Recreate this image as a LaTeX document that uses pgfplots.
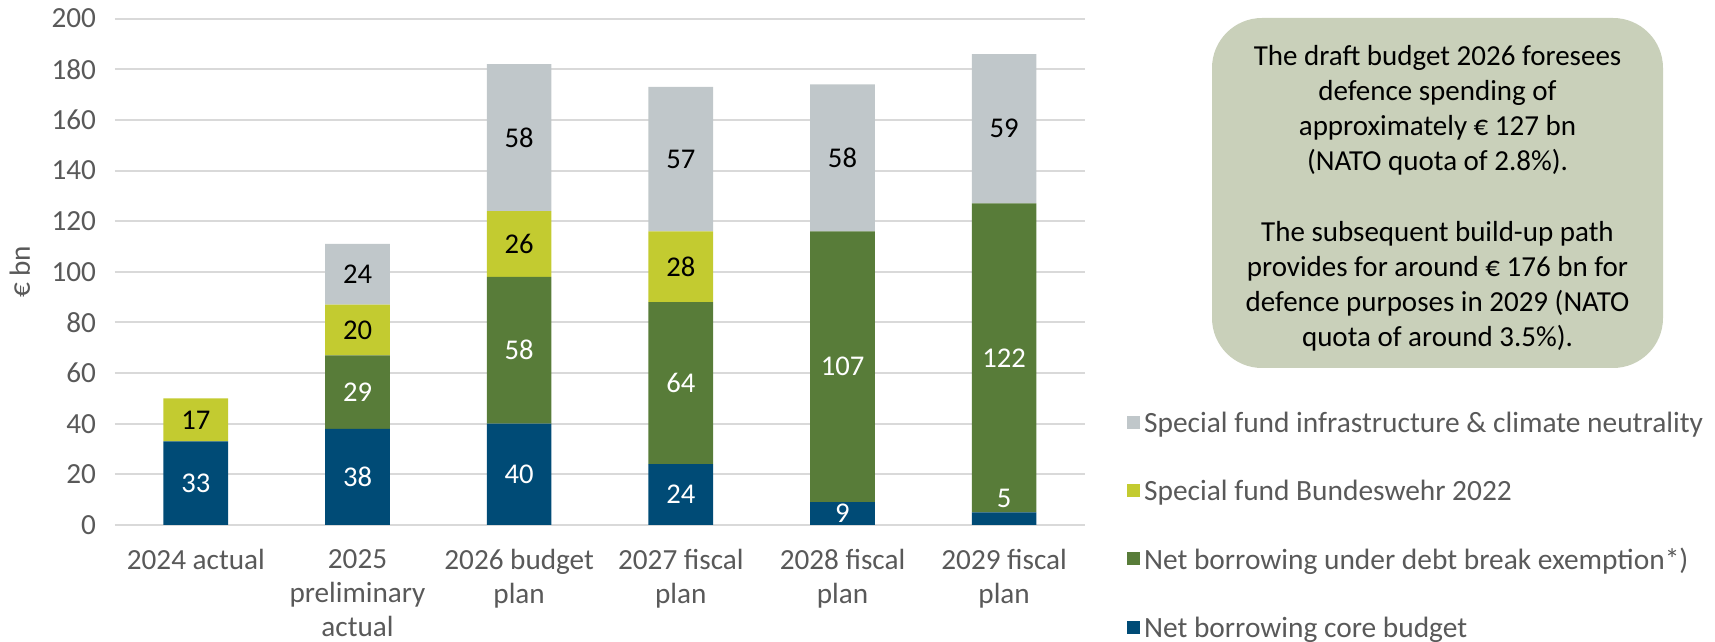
\documentclass[border=0pt]{standalone}
\usepackage{fontspec}
\setmainfont{Carlito}
\usepackage{pgfplots}
\pgfplotsset{compat=1.18}
\definecolor{cblue}{RGB}{0,75,118}
\definecolor{cgreen}{RGB}{88,124,57}
\definecolor{clime}{RGB}{195,203,48}
\definecolor{cgray}{RGB}{192,199,202}
\definecolor{cbox}{RGB}{201,208,186}
\definecolor{ctext}{RGB}{89,89,89}
\definecolor{cgrid}{RGB}{217,217,217}
\begin{document}
\begin{tikzpicture}
\useasboundingbox (0,0) rectangle (857.5pt,321pt);
\pgfplotsset{
  base/.style={
    at={(57.5pt,58.5pt)}, anchor=south west,
    scale only axis, width=485pt, height=253.2pt,
    xmin=-0.5, xmax=5.5, ymin=0, ymax=200,
  }
}
\begin{axis}[base,
  ybar stacked, bar width=0.4,
  axis line style={draw=none},
  tick style={draw=none},
  ymajorgrids, grid style={cgrid, line width=1pt},
  ytick={0,20,...,200},
  xtick={0,...,5},
  xticklabels={2024 actual, {2025\\preliminary\\actual}, {2026 budget\\plan}, {2027 fiscal\\plan}, {2028 fiscal\\plan}, {2029 fiscal\\plan}},
  xticklabel style={align=center, font=\fontsize{14.6}{17.2}\selectfont, text=ctext, anchor=north, yshift=-8.5pt},
  yticklabel style={font=\fontsize{14.6}{16}\selectfont, text=ctext, xshift=-6pt},
  /pgf/number format/assume math mode=true,
  ylabel={€ bn},
  ylabel style={at={(axis description cs:-0.098,0.5)}, anchor=center, font=\fontsize{14.6}{16}\selectfont, text=ctext},
  legend style={at={(1.043,0.232)}, anchor=north west, draw=none, fill=none, inner sep=0pt,
    font=\fontsize{14.7}{16}\selectfont, text=ctext, row sep=18.3pt,
    /tikz/every even column/.append style={column sep=0pt}},
  legend cell align=left,
  legend image code/.code={\fill[#1] (0pt,-2.5pt) rectangle (6.5pt,4pt);},
  reverse legend,
]
\addplot[fill=cblue, draw=none] coordinates {(0,33) (1,38) (2,40) (3,24) (4,9) (5,5)};
\addlegendentry{Net borrowing core budget}
\addplot[fill=cgreen, draw=none] coordinates {(0,0) (1,29) (2,58) (3,64) (4,107) (5,122)};
\addlegendentry{Net borrowing under debt break exemption*)}
\addplot[fill=clime, draw=none] coordinates {(0,17) (1,20) (2,26) (3,28) (4,0) (5,0)};
\addlegendentry{Special fund Bundeswehr 2022}
\addplot[fill=cgray, draw=none] coordinates {(0,0) (1,24) (2,58) (3,57) (4,58) (5,59)};
\addlegendentry{Special fund infrastructure \& climate neutrality}
\end{axis}
\begin{axis}[base, hide axis]
\addplot[only marks, mark=none, nodes near coords, point meta=explicit symbolic,
  nodes near coords style={anchor=center, font=\fontsize{14.3}{16}\selectfont, text=white}]
  table[meta=l] {
x y l
0 16.5 33
1 19 38
1 52.5 29
2 20 40
2 69 58
3 12 24
3 56 64
4 4.5 9
4 62.5 107
5 10.5 5
5 66 122
};
\addplot[only marks, mark=none, nodes near coords, point meta=explicit symbolic,
  nodes near coords style={anchor=center, font=\fontsize{14.3}{16}\selectfont, text=black}]
  table[meta=l] {
x y l
0 41.5 17
1 77 20
1 99 24
2 111 26
2 153 58
3 102 28
3 144.5 57
4 145 58
5 156.5 59
};
\end{axis}
\fill[cbox, rounded corners=25pt] (606pt,137pt) rectangle (831.5pt,312pt);
\node[align=center, font=\fontsize{14.5}{17.5}\selectfont, text=black] at (718.75pt,222pt) {The draft budget 2026 foresees\\defence spending of\\approximately € 127 bn\\(NATO quota of 2.8\%).\\[18pt]The subsequent build-up path\\provides for around € 176 bn for\\defence purposes in 2029 (NATO\\quota of around 3.5\%).};
\end{tikzpicture}
\end{document}
